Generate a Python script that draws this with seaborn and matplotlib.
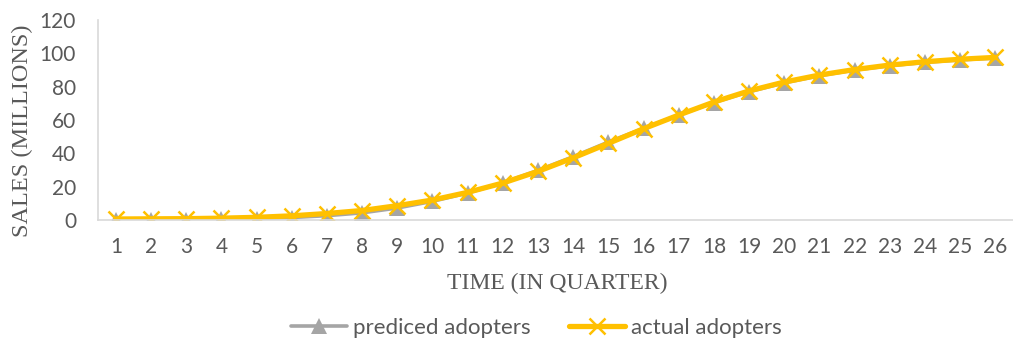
import matplotlib
matplotlib.use("Agg")
import matplotlib.pyplot as plt
import seaborn as sns
import pandas as pd

# Quarterly adoption (millions)
quarters = list(range(1, 27))
predicted = [0.1, 0.2, 0.3, 0.5, 0.9, 1.5, 2.6, 4.3, 7.2, 11.2, 16.2, 22.3, 29.8, 38.0, 46.8, 55.0, 63.0, 70.5, 77.0, 82.3, 86.6, 90.0, 92.6, 94.6, 96.1, 97.2]
actual = [0.6, 0.7, 0.8, 1.1, 1.6, 2.5, 3.9, 5.7, 8.6, 12.0, 16.6, 22.2, 29.2, 37.3, 46.0, 54.8, 63.0, 70.8, 77.5, 82.8, 87.0, 90.3, 93.0, 95.0, 96.5, 97.6]

series_names = ["prediced adopters", "actual adopters"]
x_title = "TIME (IN QUARTER)"
y_title = "SALES (MILLIONS)"

GRAY = "#A5A5A5"
GOLD = "#FFC000"
TEXT = "#595959"
AXIS = "#D9D9D9"

sns.set_theme(style="white")
plt.rcParams["font.family"] = ["Lato", "DejaVu Sans"]

df_pred = pd.DataFrame({"quarter": quarters, "sales": predicted, "series": series_names[0]})
df_act = pd.DataFrame({"quarter": quarters, "sales": actual, "series": series_names[1]})

fig = plt.figure(figsize=(10.13, 3.52), dpi=100)
ax = fig.add_axes([0.097, 0.375, 0.903, 0.568])

sns.lineplot(data=df_pred, x="quarter", y="sales", ax=ax, color=GRAY, linewidth=2.6,
             marker="^", markersize=12, markeredgewidth=0, markeredgecolor=GRAY,
             label=series_names[0])
sns.lineplot(data=df_act, x="quarter", y="sales", ax=ax, color=GOLD, linewidth=3.8,
             marker="x", markersize=11, markeredgewidth=1.8, markeredgecolor=GOLD,
             label=series_names[1])

ax.set_xlim(0.5, 26.5)
ax.set_ylim(0, 120)
ax.set_xticks(quarters)
ax.set_yticks(range(0, 121, 20))
ax.tick_params(axis="both", length=0, labelsize=15, colors=TEXT)
ax.tick_params(axis="y", pad=16)
ax.tick_params(axis="x", pad=12)
ax.set_xlabel("")
ax.set_ylabel("")

for side in ["top", "right"]:
    ax.spines[side].set_visible(False)
for side in ["left", "bottom"]:
    ax.spines[side].set_color(AXIS)
    ax.spines[side].set_linewidth(1.2)
ax.grid(False)

fig.text(0.5498, 1 - 283 / 352, x_title, ha="center", va="center",
         family="Liberation Serif", fontsize=17, color=TEXT)
fig.text(22 / 1013, 1 - 131 / 352, y_title, ha="center", va="center", rotation=90,
         family="Liberation Serif", fontsize=17.5, color=TEXT)

leg = ax.legend(loc="center", bbox_to_anchor=(0.5295, 1 - 328 / 352), bbox_transform=fig.transFigure,
                ncol=2, frameon=False, fontsize=16, handlelength=2.5, columnspacing=1.75,
                handletextpad=0.28)
for t in leg.get_texts():
    t.set_color(TEXT)

fig.savefig("out.png", dpi=100)
